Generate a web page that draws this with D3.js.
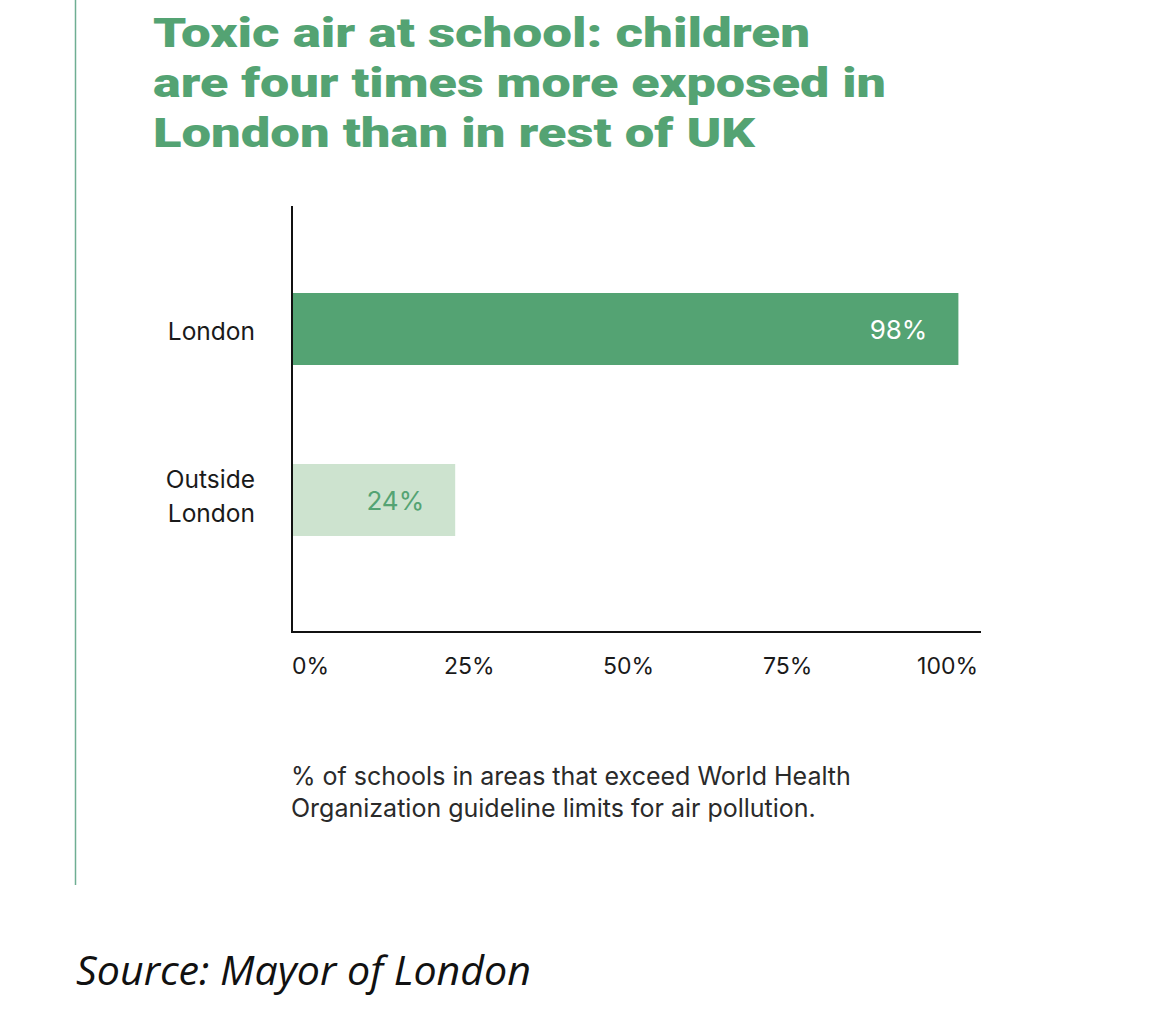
<!DOCTYPE html>
<html><head><meta charset="utf-8">
<script src="https://cdn.jsdelivr.net/npm/d3@7"></script>
<style>html,body{margin:0;padding:0;background:#fff;}</style>
</head><body>
<script>
const categories = ["London", "Outside London"];
const categoryLines = [["London"], ["Outside", "London"]];
const values = [98, 24];
const valueLabels = ["98%", "24%"];
const tickValues = [0, 25, 50, 75, 100];
const tickLabels = ["0%", "25%", "50%", "75%", "100%"];
const titleLines = ["Toxic air at school: children", "are four times more exposed in", "London than in rest of UK"];
const noteLines = ["% of schools in areas that exceed World Health", "Organization guideline limits for air pollution."];
const sourceText = "Source: Mayor of London";

const W = 1170, H = 1029;
const svg = d3.select("body").append("svg").attr("width", W).attr("height", H);
svg.append("rect").attr("width", W).attr("height", H).attr("fill", "#fff");

const green = "#54a373", light = "#cde3cf";
const sans = "Inter, 'Noto Sans', sans-serif";

// left accent line
svg.append("line").attr("x1", 75.5).attr("x2", 75.5).attr("y1", 0).attr("y2", 885)
  .attr("stroke", "#6fae93").attr("stroke-width", 1.5);

// title
svg.append("g").selectAll("text").data(titleLines).join("text")
  .attr("x", 153).attr("y", (d, i) => 47 + i * 50)
  .attr("font-family", "Roboto, 'Liberation Sans', sans-serif")
  .attr("font-weight", 900).attr("font-size", 41).attr("fill", green)
  .attr("textLength", (d, i) => [657, 733, 602][i]).attr("lengthAdjust", "spacingAndGlyphs")
  .text(d => d);

const x0 = 292, yTop = 206, yBot = 632, xEnd = 981;
const x = d3.scaleLinear().domain([0, 100]).range([x0, 972]);
const y = d3.scaleBand().domain(categories).range([207.5, 621.5]).paddingInner(0.579).paddingOuter(0.5);

// bars
svg.append("g").selectAll("rect").data(values).join("rect")
  .attr("x", x(0)).attr("y", (d, i) => y(categories[i]))
  .attr("width", d => x(d) - x(0)).attr("height", y.bandwidth())
  .attr("fill", (d, i) => i === 0 ? green : light);

// value labels
svg.append("g").selectAll("text").data(values).join("text")
  .attr("x", d => x(d) - 31).attr("y", (d, i) => y(categories[i]) + y.bandwidth() / 2 + 10)
  .attr("text-anchor", "end")
  .attr("font-family", sans).attr("font-size", 26)
  .attr("fill", (d, i) => i === 0 ? "#fff" : green)
  .text((d, i) => valueLabels[i]);

// category labels
const catG = svg.append("g");
categories.forEach((c, i) => {
  const lines = categoryLines[i];
  const cy = y(c) + y.bandwidth() / 2;
  const shift = lines.length > 1 ? -4 : 2;
  lines.forEach((l, j) => {
    catG.append("text")
      .attr("x", 255).attr("y", cy + 9 + shift + (j - (lines.length - 1) / 2) * 34)
      .attr("text-anchor", "end")
      .attr("font-family", sans).attr("font-size", 24.5)
      .attr("fill", "#1a1a1a").text(l);
  });
});

// axes lines
svg.append("line").attr("x1", x0).attr("x2", x0).attr("y1", yTop).attr("y2", yBot + 1)
  .attr("stroke", "#111").attr("stroke-width", 2);
svg.append("line").attr("x1", x0).attr("x2", xEnd).attr("y1", yBot).attr("y2", yBot)
  .attr("stroke", "#111").attr("stroke-width", 2);

// tick labels (evenly spread, as in original)
const tickX = d3.scaleLinear().domain([0, 100]).range([310, 947]);
svg.append("g").selectAll("text").data(tickValues).join("text")
  .attr("x", (d, i) => i === 0 ? x0 : i === tickValues.length - 1 ? 978 : tickX(d))
  .attr("y", 674)
  .attr("text-anchor", (d, i) => i === 0 ? "start" : i === tickValues.length - 1 ? "end" : "middle")
  .attr("font-family", sans).attr("font-size", 23)
  .attr("fill", "#1a1a1a").text((d, i) => tickLabels[i]);

// note
svg.append("g").selectAll("text").data(noteLines).join("text")
  .attr("x", 291).attr("y", (d, i) => 785 + i * 32)
  .attr("font-family", sans).attr("font-size", 25)
  .attr("fill", "#2a2a2a").text(d => d);

// source
svg.append("text").attr("x", 76).attr("y", 985)
  .attr("font-family", "'Open Sans', 'Noto Sans', sans-serif").attr("font-style", "italic")
  .attr("font-size", 40).attr("fill", "#111")
  .attr("textLength", 455).attr("lengthAdjust", "spacingAndGlyphs")
  .text(sourceText);
</script>
</body></html>
